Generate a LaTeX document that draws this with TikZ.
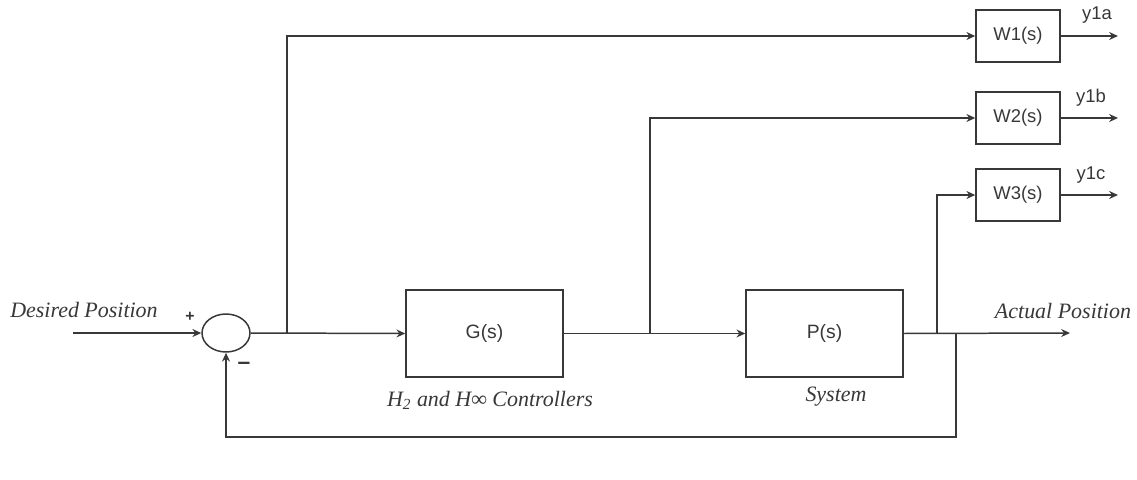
\documentclass[tikz,border=0pt]{standalone}
\usepackage{fontspec}
\setmainfont{Liberation Serif}
\newfontfamily\blocksans{Liberation Sans}
\usetikzlibrary{arrows.meta,shapes.geometric}
\begin{document}
\begin{tikzpicture}[x=0.02cm,y=-0.02cm,
  line width=0.85pt, color=black!78,
  blockbox/.style={draw, rectangle, minimum width=3.14cm, minimum height=1.74cm,
    inner sep=0pt, font=\blocksans\fontsize{11}{12}\selectfont},
  wbox/.style={draw, rectangle, minimum width=1.68cm, minimum height=1.04cm,
    inner sep=0pt, font=\blocksans\fontsize{10.5}{12}\selectfont},
  sumnode/.style={draw, ellipse, minimum width=0.96cm, minimum height=0.76cm, inner sep=0pt},
  sig/.style={-{Stealth[length=5pt,width=4.5pt]}},
  caption/.style={font=\itshape\fontsize{12.5}{14}\selectfont, inner sep=0pt},
  outlabel/.style={font=\blocksans\fontsize{10.5}{12}\selectfont, inner sep=0pt},
  signlabel/.style={font=\blocksans\bfseries\fontsize{9}{10}\selectfont, inner sep=0pt}]
\useasboundingbox (0,0) rectangle (1137,480);

% blocks
\node[sumnode] (sum) at (226,333) {};
\node[blockbox] (G) at (484.5,333.5) {G(s)};
\node[blockbox] (P) at (824.5,333.5) {P(s)};
\node[wbox] (W1) at (1018,36) {W1(s)};
\node[wbox] (W2) at (1018,118) {W2(s)};
\node[wbox] (W3) at (1018,195) {W3(s)};

% signal end points and branch points
\coordinate (in) at (73,333);
\coordinate (out) at (1070,333);
\coordinate (b1) at (287,333);
\coordinate (b2) at (650,333);
\coordinate (b3) at (937,333);
\coordinate (b4) at (956,333);
\coordinate (fbR) at (956,437);
\coordinate (ya) at (1118,36);
\coordinate (yb) at (1118,118);
\coordinate (yc) at (1118,195);

% main loop
\draw[sig] (in) -- (sum.west);
\draw[sig] (sum.east) -- (G.west);
\draw[sig] (G.east) -- (P.west);
\draw[sig] (P.east) -- (out);
\draw[sig] (b4) -- (fbR) -| (sum.south);

% weighting branches
\draw[sig] (b1) |- (W1.west);
\draw[sig] (b2) |- (W2.west);
\draw[sig] (b3) |- (W3.west);
\draw[sig] (W1.east) -- (ya);
\draw[sig] (W2.east) -- (yb);
\draw[sig] (W3.east) -- (yc);

% labels
\node[caption] (dp) at (84,310) {Desired Position};
\node[caption] (ap) at (1063,311) {Actual Position};
\node[caption] (gc) at (490,400) {H\textsubscript{2} and H∞ Controllers};
\node[caption] (sy) at (836,397) {System};
\node[signlabel] (plus) at (190,317) {+};
\node[signlabel, font=\blocksans\bfseries\fontsize{13}{14}\selectfont] (minus) at (244,366) {–};
\node[outlabel] (la) at (1097,15) {y1a};
\node[outlabel] (lb) at (1091,98) {y1b};
\node[outlabel] (lc) at (1091,175) {y1c};
\end{tikzpicture}
\end{document}
